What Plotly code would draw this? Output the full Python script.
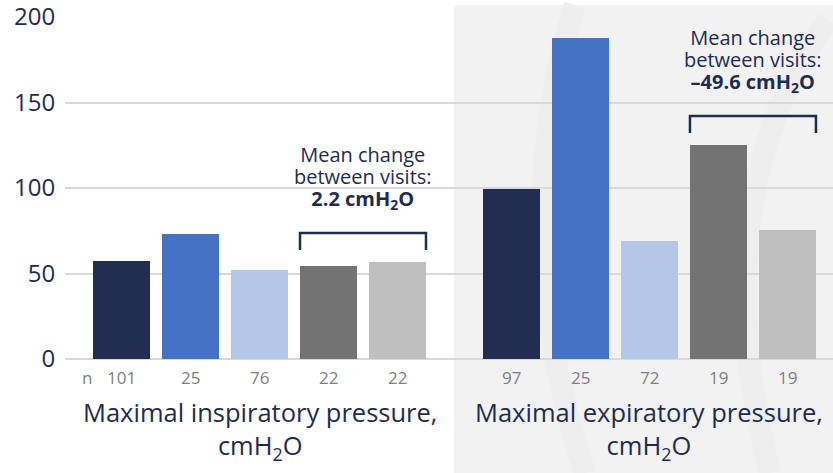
import plotly.graph_objects as go

# Mean values (cmH2O) per subgroup
mip_values = [57.3, 73.1, 52.0, 54.4, 56.7]
mep_values = [99.4, 187.7, 69.0, 125.1, 75.4]
mip_n = [101, 25, 76, 22, 22]
mep_n = [97, 25, 72, 19, 19]
group_titles = [
    "Maximal inspiratory pressure,<br>cmH<sub>2</sub>O",
    "Maximal expiratory pressure,<br>cmH<sub>2</sub>O",
]
mean_changes = ["2.2", "\u201349.6"]
y_ticks = [0, 50, 100, 150, 200]

bar_colors = ["#212e52", "#4472c4", "#b4c7e7", "#737373", "#bfbfbf"]
NAVY = "#1f2c52"
GREY_TXT = "#7f7f7f"
FONT = "Open Sans"

BAR_W = 0.826
GROUP_GAP = 5.652  # offset of the second group along the x axis

# plot-area geometry used to place decorative paper shapes
W, H = 833, 473
ML, MR, MT, MB = 65, 0, 17, 114
PW, PH = W - ML - MR, H - MT - MB


def px(xpix):
    return (xpix - ML) / PW


def py(ypix):
    return (H - MB - ypix) / PH


fig = go.Figure()

groups = [(mip_values, mip_n), (mep_values, mep_n)]
for g, (vals, ns) in enumerate(groups):
    xs = [g * GROUP_GAP + i for i in range(len(vals))]
    fig.add_trace(go.Bar(
        x=xs, y=vals, width=BAR_W,
        marker=dict(color=bar_colors, line=dict(width=0)),
        showlegend=False, hoverinfo="y",
    ))
    # n counts under each bar
    for x, n in zip(xs, ns):
        fig.add_annotation(x=x, y=-0.055, xref="x", yref="paper", text=str(n),
                           showarrow=False, yanchor="middle",
                           font=dict(family=FONT, size=17, color=GREY_TXT))
    # group title
    fig.add_annotation(x=(xs[0] + xs[-1]) / 2, y=-0.1, xref="x", yref="paper",
                       text=group_titles[g], showarrow=False, yanchor="top",
                       font=dict(family=FONT, size=25.5, color=NAVY))
    # bracket over the last two bars
    top = max(vals[3:]) + 17
    x0 = xs[3] - BAR_W / 2
    x1 = xs[4] + BAR_W / 2
    fig.add_shape(type="path",
                  path=f"M {x0},{top - 10} L {x0},{top} L {x1},{top} L {x1},{top - 10}",
                  xref="x", yref="y", line=dict(color=NAVY, width=2.5))
    # tight line spacing: base size sets the spacing, spans set the glyph size
    big = '<span style="font-size:20px">{}</span>'
    label = "<br>".join([
        big.format("Mean change"),
        big.format("between visits:"),
        big.format(f"<b>{mean_changes[g]} cmH<sub>2</sub>O</b>"),
    ])
    fig.add_annotation(x=(x0 + x1) / 2, y=top, xref="x", yref="y",
                       yshift=18, yanchor="bottom", showarrow=False,
                       text=label, borderpad=0,
                       font=dict(family=FONT, size=17, color=NAVY))

fig.add_annotation(x=px(80), y=-0.055, xref="paper", yref="paper", text="n",
                   showarrow=False, yanchor="middle",
                   font=dict(family=FONT, size=17, color=GREY_TXT))

# shaded panel behind the expiratory group
fig.add_shape(type="rect", xref="paper", yref="paper",
              x0=px(454), x1=1.0, y0=py(473), y1=py(5),
              fillcolor="#f2f2f2", line=dict(width=0), layer="below")
# faint watermark bands on the panel
for (a, c, b) in [((575, 5), (505, 230), (585, 473)),
                  ((828, 20), (700, 200), (770, 473))]:
    fig.add_shape(type="path", xref="paper", yref="paper", layer="below",
                  path=(f"M {px(a[0])},{py(a[1])} Q {px(c[0])},{py(c[1])} "
                        f"{px(b[0])},{py(b[1])}"),
                  line=dict(color="#eeeeee", width=22))

fig.update_layout(
    width=W, height=H,
    margin=dict(l=ML, r=MR, t=MT, b=MB),
    paper_bgcolor="white", plot_bgcolor="rgba(0,0,0,0)",
    bargap=0,
    xaxis=dict(range=[-0.819, 10.312], showticklabels=False, showgrid=False,
               zeroline=False, fixedrange=True),
    yaxis=dict(range=[0, 200], tickvals=y_ticks, showgrid=True,
               gridcolor="#d9d9d9", gridwidth=1.5, zeroline=True,
               zerolinecolor="#d9d9d9", zerolinewidth=1.5,
               tickfont=dict(family=FONT, size=24, color=NAVY),
               ticklabeloverflow="allow",
               ticks="outside", ticklen=4, tickcolor="rgba(0,0,0,0)"),
)

fig.write_html("out.html")
